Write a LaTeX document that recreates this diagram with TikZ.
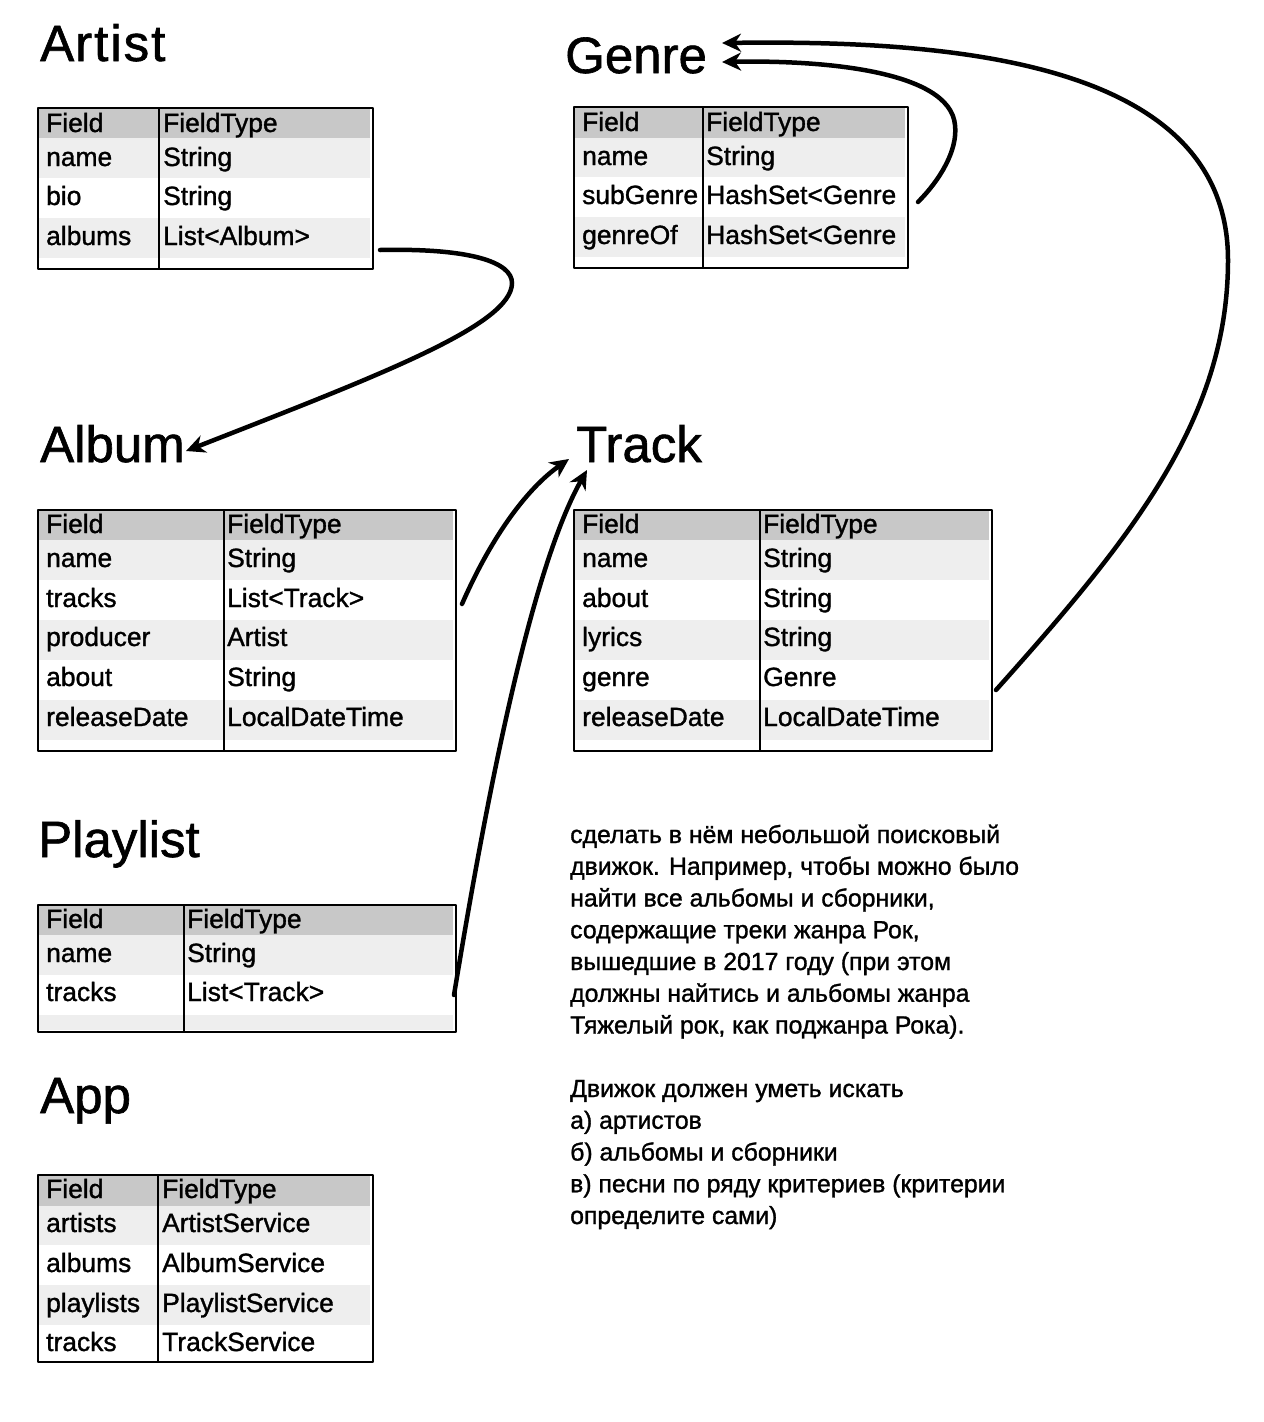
\documentclass[tikz,border=0pt]{standalone}
\usepackage{fontspec}
\setmainfont{Liberation Sans}[FakeBold=1.2]
\usetikzlibrary{arrows.meta}
\definecolor{hdr}{HTML}{C8C8C8}
\definecolor{lite}{HTML}{EEEEEE}
\begin{document}
\begin{tikzpicture}[x=1pt,y=-1pt,
  tbl/.style={draw=black,line width=2.4pt,line join=round},
  divline/.style={draw=black,line width=2pt},
  cell/.style={anchor=base west,inner sep=0pt,font=\fontsize{26.4}{30}\selectfont},
  title/.style={anchor=base west,inner sep=0pt,font=\fontsize{51}{56}\selectfont},
  para/.style={anchor=base west,inner sep=0pt,font=\fontsize{24.8}{30}\selectfont},
  arr/.style={draw=black,line width=4.5pt,line cap=round,-{Stealth[length=19pt,width=18pt,inset=6pt]}}]
\useasboundingbox (0,0) rectangle (1264,1422);
\fill[white] (0,0) rectangle (1264,1422);

% ---------- Titles
\node[title] (tArtist) at (40,61) {A\kern1pt r\kern2pt t\kern2pt i\kern2pt s\kern2pt t};
\node[title] (tGenre) at (565,73) {Genre};
\node[title] (tAlbum) at (40,462) {Album};
\node[title] (tTrack) at (576,462) {Track};
\node[title] (tPlaylist) at (38,857) {Playlist};
\node[title] (tApp) at (40,1113) {App};

% ---------- Artist table
\fill[hdr] (38,108) rectangle (370,138);
\fill[lite] (38,138) rectangle (370,178);
\fill[lite] (38,218) rectangle (370,258);
\draw[tbl] (38,108) rectangle (373,269);
\draw[divline] (159,108) -- (159,269);
\node[cell] (ar0a) at (46,132) {Field};
\node[cell] (ar0b) at (163,132) {FieldType};
\node[cell] (ar1a) at (46,166) {name};
\node[cell] (ar1b) at (163,166) {String};
\node[cell] (ar2a) at (46,205) {bio};
\node[cell] (ar2b) at (163,205) {String};
\node[cell] (ar3a) at (46,245) {albums};
\node[cell] (ar3b) at (163,245) {List<Album>};

% ---------- Genre table
\fill[hdr] (574,107) rectangle (905,138);
\fill[lite] (574,138) rectangle (905,177);
\fill[lite] (574,217) rectangle (905,257);
\draw[tbl] (574,107) rectangle (908,268);
\draw[divline] (703,107) -- (703,268);
\node[cell] (ge0a) at (582,131) {Field};
\node[cell] (ge0b) at (706,131) {FieldType};
\node[cell] (ge1a) at (582,165) {name};
\node[cell] (ge1b) at (706,165) {String};
\node[cell] (ge2a) at (582,204) {subGenre};
\node[cell] (ge2b) at (706,204) {HashSet<Genre};
\node[cell] (ge3a) at (582,244) {genreOf};
\node[cell] (ge3b) at (706,244) {HashSet<Genre};

% ---------- Album table
\fill[hdr] (38,510) rectangle (453,540);
\fill[lite] (38,540) rectangle (453,580);
\fill[lite] (38,620) rectangle (453,660);
\fill[lite] (38,700) rectangle (453,740);
\draw[tbl] (38,510) rectangle (456,751);
\draw[divline] (224,510) -- (224,751);
\node[cell] (al0a) at (46,533) {Field};
\node[cell] (al0b) at (227,533) {FieldType};
\node[cell] (al1a) at (46,567) {name};
\node[cell] (al1b) at (227,567) {String};
\node[cell] (al2a) at (46,607) {tracks};
\node[cell] (al2b) at (227,607) {List<Track>};
\node[cell] (al3a) at (46,646) {producer};
\node[cell] (al3b) at (227,646) {Artist};
\node[cell] (al4a) at (46,686) {about};
\node[cell] (al4b) at (227,686) {String};
\node[cell] (al5a) at (46,726) {releaseDate};
\node[cell] (al5b) at (227,726) {LocalDateTime};

% ---------- Track table
\fill[hdr] (574,510) rectangle (989,540);
\fill[lite] (574,540) rectangle (989,580);
\fill[lite] (574,620) rectangle (989,660);
\fill[lite] (574,700) rectangle (989,740);
\draw[tbl] (574,510) rectangle (992,751);
\draw[divline] (760,510) -- (760,751);
\node[cell] (tr0a) at (582,533) {Field};
\node[cell] (tr0b) at (763,533) {FieldType};
\node[cell] (tr1a) at (582,567) {name};
\node[cell] (tr1b) at (763,567) {String};
\node[cell] (tr2a) at (582,607) {about};
\node[cell] (tr2b) at (763,607) {String};
\node[cell] (tr3a) at (582,646) {lyrics};
\node[cell] (tr3b) at (763,646) {String};
\node[cell] (tr4a) at (582,686) {genre};
\node[cell] (tr4b) at (763,686) {Genre};
\node[cell] (tr5a) at (582,726) {releaseDate};
\node[cell] (tr5b) at (763,726) {LocalDateTime};

% ---------- Playlist table
\fill[hdr] (38,905) rectangle (453,935);
\fill[lite] (38,935) rectangle (453,975);
\fill[lite] (38,1015) rectangle (453,1030);
\draw[tbl] (38,905) rectangle (456,1032);
\draw[divline] (184,905) -- (184,1032);
\node[cell] (pl0a) at (46,928) {Field};
\node[cell] (pl0b) at (187,928) {FieldType};
\node[cell] (pl1a) at (46,962) {name};
\node[cell] (pl1b) at (187,962) {String};
\node[cell] (pl2a) at (46,1001) {tracks};
\node[cell] (pl2b) at (187,1001) {List<Track>};

% ---------- App table
\fill[hdr] (38,1175) rectangle (370,1206);
\fill[lite] (38,1206) rectangle (370,1245);
\fill[lite] (38,1285) rectangle (370,1325);
\draw[tbl] (38,1175) rectangle (373,1362);
\draw[divline] (158,1175) -- (158,1362);
\node[cell] (ap0a) at (46,1198) {Field};
\node[cell] (ap0b) at (162,1198) {FieldType};
\node[cell] (ap1a) at (46,1232) {artists};
\node[cell] (ap1b) at (162,1232) {ArtistService};
\node[cell] (ap2a) at (46,1272) {albums};
\node[cell] (ap2b) at (162,1272) {AlbumService};
\node[cell] (ap3a) at (46,1312) {playlists};
\node[cell] (ap3b) at (162,1312) {PlaylistService};
\node[cell] (ap4a) at (46,1351) {tracks};
\node[cell] (ap4b) at (162,1351) {TrackService};

% ---------- Text block
\node[para] (p1) at (570,843) {сделать в нём небольшой поисковый};
\node[para] (p2) at (570,874.75) {движок. Например, чтобы можно было};
\node[para] (p3) at (570,906.5) {найти все альбомы и сборники,};
\node[para] (p4) at (570,938.25) {содержащие треки жанра Рок,};
\node[para] (p5) at (570,970) {вышедшие в 2017 году (при этом};
\node[para] (p6) at (570,1001.75) {должны найтись и альбомы жанра};
\node[para] (p7) at (570,1033.5) {Тяжелый рок, как поджанра Рока).};
\node[para] (p9) at (570,1097) {Движок должен уметь искать};
\node[para] (p10) at (570,1128.75) {а) артистов};
\node[para] (p11) at (570,1160.5) {б) альбомы и сборники};
\node[para] (p12) at (570,1192.25) {в) песни по ряду критериев (критерии};
\node[para] (p13) at (570,1224) {определите сами)};

% ---------- Connectors
\coordinate (a1s) at (380,250);
\coordinate (a1e) at (186,451);
\coordinate (a2s) at (462,604);
\coordinate (a2e) at (569,459);
\coordinate (a3s) at (454,995);
\coordinate (a3e) at (587,470);
\coordinate (a4s) at (918,202);
\coordinate (a4e) at (722,62);
\coordinate (a5s) at (996,690);
\coordinate (a5e) at (722,43);

\draw[arr] (a1s) .. controls (470,248) and (512,262) .. (512,283)
               .. controls (512,325) and (380,375) .. (a1e);
\draw[arr] (a2s) .. controls (490,540) and (525,490) .. (a2e);
\draw[arr] (a3s) .. controls (478,850) and (525,580) .. (a3e);
\draw[arr] (a4s) .. controls (940,180) and (958,150) .. (955,125)
               .. controls (950,70) and (820,60) .. (a4e);
\draw[arr] (a5s) .. controls (1130,540) and (1228,420) .. (1228,260)
               .. controls (1228,60) and (950,40) .. (a5e);
\end{tikzpicture}
\end{document}
